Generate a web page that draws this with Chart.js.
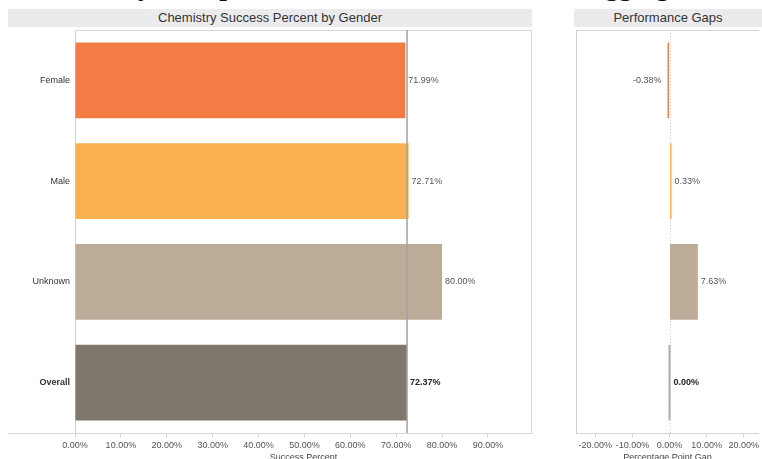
<!DOCTYPE html>
<html>
<head>
<meta charset="utf-8">
<script src="https://cdn.jsdelivr.net/npm/chart.js@4.4.1/dist/chart.umd.min.js"></script>
<style>
    body {
        margin: 0;
        width: 762px;
        height: 459px;
        overflow: hidden;
        position: relative;
        background: #fff;
        font-family: "Liberation Sans", Arial, sans-serif;
    }
    .bigTitle {
        position: absolute;
        left: 30px;
        top: -28px;
        font: bold 27px "Liberation Serif", serif;
        line-height: 28px;
        white-space: nowrap;
        color: #111;
    }
    .band {
        position: absolute;
        top: 9px;
        height: 18px;
        line-height: 18px;
        background: #ebebee;
        color: #333;
        font-size: 13px;
        text-align: center;
        white-space: nowrap;
    }
    #leftWrap { position: absolute; left: 0; top: 28px; width: 540px; height: 440px; }
    #rightWrap { position: absolute; left: 540px; top: 28px; width: 222px; height: 440px; }
</style>
</head>
<body>
<div class="bigTitle">Chemistry Group Success Rates for Students Disaggregated</div>
<div class="band" style="left:8px;width:524px;">Chemistry Success Percent by Gender</div>
<div class="band" style="left:574px;width:188px;">Performance Gaps</div>
<div id="leftWrap"><canvas id="successChart"></canvas></div>
<div id="rightWrap"><canvas id="gapChart"></canvas></div>

<script>
const categories = ['Female', 'Male', 'Unknown', 'Overall'];
const successPct = [71.99, 72.71, 80.00, 72.37];
const gapPct = [-0.38, 0.33, 7.63, 0.00];
const successTicks = [0, 10, 20, 30, 40, 50, 60, 70, 80, 90];
const gapTicks = [-20, -10, 0, 10, 20];

const barColors = ['#f37c45', '#fbb152', '#bbab97', '#7f766c'];
const gapColors = ['#f37c45', '#fbb152', '#bbab97', '#b3aca5'];

const FONT = '"Liberation Sans", Arial, sans-serif';
const fmt = v => v.toFixed(2) + '%';

// draws frame, reference / zero lines and value labels
const panelExtras = {
    id: 'panelExtras',
    beforeDatasetsDraw(chart, args, opts) {
        const { ctx, chartArea: a, scales } = chart;
        if (opts.zeroLine) {
            const x = Math.round(scales.x.getPixelForValue(0)) + 0.5;
            ctx.save();
            ctx.strokeStyle = '#d0d0d0';
            ctx.setLineDash([1, 2]);
            ctx.beginPath();
            ctx.moveTo(x, a.top);
            ctx.lineTo(x, a.bottom);
            ctx.stroke();
            ctx.restore();
        }
    },
    afterDatasetsDraw(chart, args, opts) {
        const { ctx, chartArea: a, scales } = chart;
        ctx.save();
        ctx.strokeStyle = '#d6d6d6';
        ctx.lineWidth = 1;
        ctx.beginPath();
        ctx.moveTo(a.left, a.top + 0.5);
        ctx.lineTo(a.right, a.top + 0.5);
        if (opts.rightBorder) {
            ctx.moveTo(a.right - 0.5, a.top);
            ctx.lineTo(a.right - 0.5, a.bottom);
        }
        if (opts.axisFrom != null) {
            ctx.moveTo(opts.axisFrom, a.bottom + 0.5);
            ctx.lineTo(a.left, a.bottom + 0.5);
        }
        ctx.stroke();

        if (opts.refValue != null) {
            const x = scales.x.getPixelForValue(opts.refValue);
            ctx.strokeStyle = '#a3a3a3';
            ctx.lineWidth = 1.5;
            ctx.beginPath();
            ctx.moveTo(x, a.top);
            ctx.lineTo(x, a.bottom);
            ctx.stroke();
        }

        const values = chart.data.datasets[0].data;
        chart.getDatasetMeta(0).data.forEach((bar, i) => {
            const v = values[i];
            const last = i === values.length - 1;
            ctx.font = (last ? 'bold ' : '') + '9px ' + FONT;
            ctx.fillStyle = last ? '#222' : '#555';
            ctx.textBaseline = 'middle';
            if (v < 0) {
                ctx.textAlign = 'right';
                ctx.fillText(fmt(v), Math.min(bar.x, bar.base) - 6, bar.y);
            } else {
                ctx.textAlign = 'left';
                ctx.fillText(fmt(v), Math.max(bar.x, bar.base) + 3, bar.y);
            }
        });
        ctx.restore();
    }
};

function xAxis(min, max, tickList, title) {
    return {
        type: 'linear',
        min: min,
        max: max,
        afterBuildTicks: scale => { scale.ticks = tickList.map(v => ({ value: v })); },
        afterFit: scale => { scale.height = 35; },
        border: { color: '#d6d6d6' },
        grid: { drawOnChartArea: false, tickLength: 4, color: '#d0d0d0' },
        ticks: {
            padding: 3,
            color: '#555',
            font: { size: 9, family: FONT },
            maxRotation: 0,
            autoSkip: false,
            callback: v => fmt(v)
        },
        title: {
            display: true,
            text: title,
            color: '#444',
            font: { size: 9, family: FONT },
            padding: { top: 0, bottom: 5 }
        }
    };
}

function yAxis(width, showLabels) {
    return {
        afterFit: scale => {
            scale.width = width;
            scale.paddingTop = 0;
            scale.paddingBottom = 0;
        },
        border: { color: '#d0d0d0' },
        grid: { display: false, drawTicks: false },
        ticks: {
            display: showLabels,
            padding: 5,
            color: '#333',
            font: c => ({ size: 9, family: FONT, weight: c.index === 3 ? 'bold' : 'normal' })
        }
    };
}

new Chart(document.getElementById('successChart'), {
    type: 'bar',
    data: {
        labels: categories,
        datasets: [{
            data: successPct,
            backgroundColor: barColors,
            categoryPercentage: 1,
            barPercentage: 0.75
        }]
    },
    options: {
        indexAxis: 'y',
        responsive: true,
        maintainAspectRatio: false,
        animation: false,
        layout: { padding: { top: 2, right: 8, left: 0, bottom: 0 } },
        plugins: {
            legend: { display: false },
            tooltip: { enabled: false },
            panelExtras: { refValue: successPct[3], rightBorder: true, axisFrom: 8 }
        },
        scales: {
            x: xAxis(0, 99.6, successTicks, 'Success Percent'),
            y: yAxis(75, true)
        }
    },
    plugins: [panelExtras]
});

new Chart(document.getElementById('gapChart'), {
    type: 'bar',
    data: {
        labels: categories,
        datasets: [{
            data: gapPct,
            backgroundColor: gapColors,
            categoryPercentage: 1,
            barPercentage: 0.75,
            minBarLength: 2
        }]
    },
    options: {
        indexAxis: 'y',
        responsive: true,
        maintainAspectRatio: false,
        animation: false,
        layout: { padding: { top: 2, right: 0, left: 0, bottom: 0 } },
        plugins: {
            legend: { display: false },
            tooltip: { enabled: false },
            panelExtras: { zeroLine: true, rightBorder: false }
        },
        scales: {
            x: xAxis(-25.2, 24.1, gapTicks, 'Percentage Point Gap'),
            y: yAxis(36, false)
        }
    },
    plugins: [panelExtras]
});
</script>
</body>
</html>
